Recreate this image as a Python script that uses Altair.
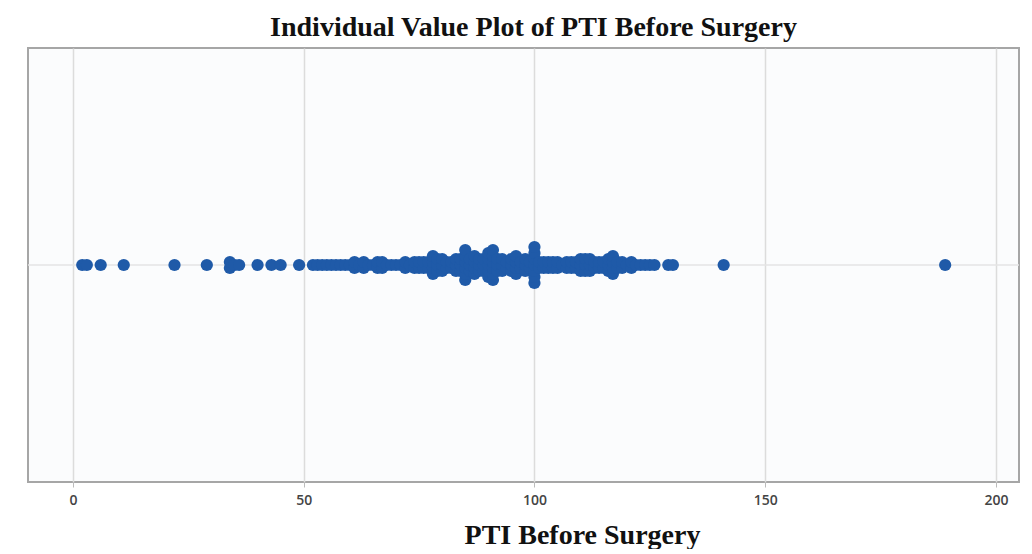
import altair as alt
import pandas as pd

# PTI before surgery: observed values and how many patients share each value
pti_values = [2, 3, 6, 11, 22, 29, 34, 35, 36, 40, 43, 45, 49,
              52, 53, 54, 55, 56, 57, 58, 59, 60, 61, 62, 63, 64, 65, 66, 67, 68, 69,
              70, 71, 72, 73, 74, 75, 76, 77, 78, 79, 80, 81, 82, 83, 84, 85, 86, 87,
              88, 89, 90, 91, 92, 93, 94, 95, 96, 97, 98, 99, 100, 101, 102, 103, 104,
              105, 106, 107, 108, 109, 110, 111, 112, 113, 114, 115, 116, 117, 118, 119,
              120, 121, 122, 123, 124, 125, 126, 129, 130, 141, 189]
counts = [1, 1, 1, 1, 1, 1, 2, 1, 1, 1, 1, 1, 1,
          1, 1, 1, 1, 1, 1, 1, 1, 1, 2, 1, 2, 1, 1, 2, 2, 1, 1,
          1, 1, 2, 1, 2, 2, 2, 2, 4, 3, 3, 2, 2, 3, 3, 6, 3, 4,
          3, 3, 5, 6, 3, 3, 2, 3, 4, 2, 3, 2, 7, 2, 2, 2, 2,
          2, 1, 2, 2, 2, 3, 3, 3, 2, 2, 2, 3, 4, 2, 2,
          1, 2, 1, 1, 1, 1, 1, 1, 1, 1, 1]
x_ticks = [0, 50, 100, 150, 200]

rows = []
for v, c in zip(pti_values, counts):
    for _ in range(c):
        rows.append({"pti": v})
df = pd.DataFrame(rows)

serif = "Liberation Serif"
sans = "Open Sans"

base = alt.Chart(df)

points = base.transform_window(
    rn="row_number()", groupby=["pti"]
).transform_joinaggregate(
    n="count()", groupby=["pti"]
).transform_calculate(
    off="(datum.rn - 1 - (datum.n - 1) / 2) * 6"
).mark_circle(size=150, opacity=1, color="#1f5aa8").encode(
    x=alt.X("pti:Q",
            scale=alt.Scale(domain=[-9.75, 205], nice=False, zero=False),
            axis=alt.Axis(values=x_ticks, title="PTI Before Surgery",
                          grid=True, gridColor="#dcdcdc", gridWidth=1.5,
                          domain=False, ticks=True, tickSize=5, tickColor="#bbbbbb",
                          labelFont=sans, labelFontSize=14, labelColor="#444444",
                          labelFontWeight=600, labelPadding=6,
                          titleFont=serif, titleFontSize=28, titleFontWeight="bold",
                          titleColor="#111111", titlePadding=14,
                          titleX=554, titleAlign="center")),
    y=alt.Y("off:Q", scale=alt.Scale(domain=[-217, 217]), axis=None),
)

ref = alt.Chart(pd.DataFrame({"y": [0]})).mark_rule(
    color="#e4e4e4", strokeWidth=1.5
).encode(y=alt.Y("y:Q", scale=alt.Scale(domain=[-217, 217]), axis=None))

chart = alt.layer(ref, points).properties(
    width=991, height=434,
    title=alt.TitleParams("Individual Value Plot of PTI Before Surgery",
                          font=serif, fontSize=28, fontWeight="bold",
                          color="#111111", offset=6, dx=10),
    padding={"left": 19, "top": 6, "right": 0, "bottom": 0},
    background="white",
).configure_view(
    stroke="#a6a6a6", strokeWidth=2, fill="#fbfcfd"
)

chart.save("out.html", embed_options={"renderer": "svg", "actions": False})
